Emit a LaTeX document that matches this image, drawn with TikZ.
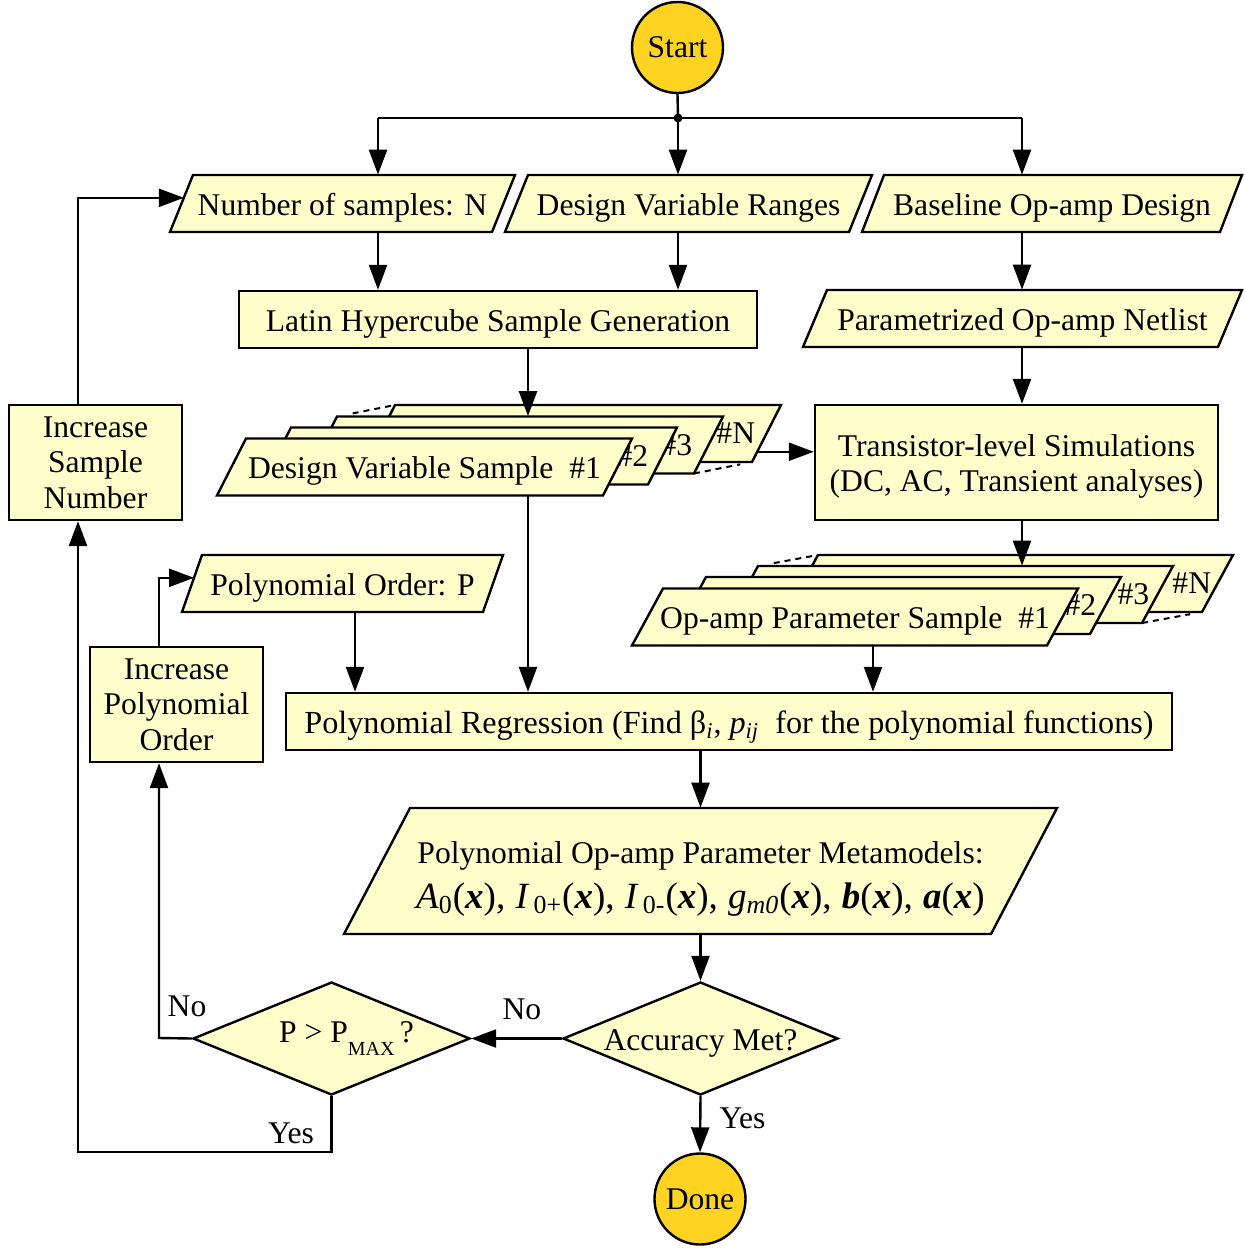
\documentclass[tikz,border=0pt]{standalone}
\usepackage{fontspec}
\setmainfont{Liberation Serif}
\usetikzlibrary{shapes.geometric,arrows.meta,calc}
\definecolor{boxfill}{HTML}{FFFFCC}
\definecolor{termfill}{HTML}{FFD321}

% Slanted data box: [text options]{name}{cx}{cy}{full width}{height}{slant}{text}
% Corners are kept as name-bl, name-tl, name-tr, name-br; name-r is the middle of the right side.
\newcommand{\iobox}[8][oneline]{%
  \filldraw[iofill] ({#3-#5/2},{#4+#6/2}) coordinate (#2-bl)
     -- ({#3-#5/2+#7},{#4-#6/2}) coordinate (#2-tl)
     -- ({#3+#5/2},{#4-#6/2}) coordinate (#2-tr)
     -- ({#3+#5/2-#7},{#4+#6/2}) coordinate (#2-br) -- cycle;
  \coordinate (#2-r) at ({#3+#5/2-#7/2},#4);
  \node[iotext, minimum width={(#5-#7)*0.5pt}, minimum height={#6*0.5pt}, #1] (#2) at (#3,#4) {#8};
}

\begin{document}
\begin{tikzpicture}[x=0.5pt,y=-0.5pt,
  every node/.style={font=\fontsize{15.8}{17.8}\selectfont},
  oneline/.style={text height=15pt, text depth=3.5pt},
  iofill/.style={draw, line width=1.2pt, fill=boxfill},
  iotext/.style={inner sep=0pt},
  box/.style={draw, line width=1.2pt, fill=boxfill, rectangle, inner sep=0pt},
  decision/.style={draw, line width=1.2pt, fill=boxfill, diamond, shape aspect=2.43, inner sep=0pt},
  terminal/.style={draw, line width=1.2pt, fill=termfill, circle, minimum size=45.5pt, inner sep=0pt},
  arr/.style={line width=1.2pt, -{Triangle[length=12.5pt,width=9pt]}},
  link/.style={line width=1.2pt},
  gap/.style={line width=1pt, dash pattern=on 3pt off 2.5pt},
  tag/.style={inner sep=0pt}
]
\useasboundingbox (0,0) rectangle (1244,1249);

% ---------- terminals and top distribution ----------
\node[terminal] (start) at (677.5,47.5) {Start};
\coordinate (bus)  at (678,118);
\coordinate (colA) at (378,118);
\coordinate (colC) at (1022,118);

% ---------- inputs ----------
\iobox{ns}{342.5}{203.5}{345}{57}{23}{Number of samples: N}
\iobox{dvr}{688.5}{203.5}{367}{57}{23}{Design Variable Ranges}
\iobox{bod}{1052}{203.5}{380}{57}{22}{Baseline Op-amp Design}

\node[box, oneline, minimum width=259pt, minimum height=28.5pt] (lhs) at (498,319.5)
  {Latin Hypercube Sample Generation};
\iobox{pon}{1022.5}{318.5}{439}{57}{24}{Parametrized Op-amp Netlist}

\node[box, align=center, minimum width=201.5pt, minimum height=57.5pt] (tls) at (1016.5,462.5)
  {\rule{0pt}{15pt}Transistor-level Simulations\\(DC, AC, Transient analyses)};
\node[box, align=center, minimum width=86.5pt, minimum height=57.5pt] (isn) at (95.5,462.5)
  {Increase\\Sample\\Number};

% ---------- stack of design variable samples (back to front) ----------
\iobox{dsN}{573.5}{433.5}{415}{57}{29}{}
\node[tag, anchor=east] (tN) at ([xshift=-5.5pt]dsN-r) {\#N};
\iobox{ds3}{515.5}{445}{415}{57}{29}{}
\node[tag, anchor=east] (t3) at ([xshift=-8pt]ds3-r) {\#3};
\iobox{ds2}{469.5}{456}{415}{57}{29}{}
\node[tag, anchor=east] (t2) at ([xshift=-7pt]ds2-r) {\#2};
\iobox{ds1}{424.5}{467}{415}{57}{29}{Design Variable Sample \ \#1}
\draw[gap, shorten <=8pt] (ds3-tl) -- (dsN-tl);
\draw[gap, shorten >=6pt] (ds3-br) -- (dsN-br);

% ---------- stack of op-amp parameter samples (back to front) ----------
\iobox{opN}{1010}{583.5}{446}{57}{31}{}
\node[tag, anchor=east] (uN) at ([xshift=-3pt]opN-r) {\#N};
\iobox{op3}{950}{594.5}{446}{57}{31}{}
\node[tag, anchor=east] (u3) at ([xshift=-4pt]op3-r) {\#3};
\iobox{op2}{898}{605.5}{446}{57}{31}{}
\node[tag, anchor=east] (u2) at ([xshift=-4.5pt]op2-r) {\#2};
\iobox{op1}{855}{617}{446}{57}{31}{Op-amp Parameter Sample \ \#1}
\draw[gap, shorten <=8pt] (op3-tl) -- (opN-tl);
\draw[gap, shorten >=6pt] (op3-br) -- (opN-br);

% ---------- regression loop ----------
\iobox{por}{342.5}{583.5}{321}{57}{20}{Polynomial Order: P}
\node[box, align=center, minimum width=86.5pt, minimum height=57.5pt] (ipo) at (176.5,704.5)
  {Increase\\Polynomial\\Order};
\node[box, oneline, minimum width=443pt, minimum height=28.5pt,
      font=\fontsize{16.1}{18}\selectfont] (reg) at (729,721.5)
  {Polynomial Regression (Find β\textsubscript{\textit{i}}, \textit{p}\textsubscript{\textit{ij}}\ \ for the polynomial functions)};
\iobox[align=center]{meta}{700.5}{871}{713}{126}{66}
  {\rule{0pt}{19pt}Polynomial Op-amp Parameter Metamodels:\\[4.5pt]
   {\fontsize{18.5}{20}\selectfont
   \textit{A}\textsubscript{0}(\textbf{\textit{x}}),\;%
   \textit{I}\textsubscript{\,0+}(\textbf{\textit{x}}),\;%
   \textit{I}\textsubscript{\,0-}(\textbf{\textit{x}}),\;%
   \textit{g}\textsubscript{\textit{m0}}(\textbf{\textit{x}}),\;%
   \textbf{\textit{b}}(\textbf{\textit{x}}),\;%
   \textbf{\textit{a}}(\textbf{\textit{x}})}}

\node[decision, text height=12pt, text depth=0.5pt, minimum width=137.5pt, minimum height=56.5pt]
  (acc) at (700.5,1038.5) {Accuracy Met?};
\node[decision, minimum width=138.5pt, minimum height=56.5pt] (pmax) at (331.5,1038.5)
  {\hspace*{15pt}P > P\raisebox{-0.9ex}{\fontsize{10}{11}\selectfont MAX}\,?};
\node[terminal] (done) at (700,1199) {Done};

% ---------- connectors ----------
\draw[link] (start.south) -- (bus);
\draw[link] (colA) -- (colC);
\fill (bus) circle (4.5);
\draw[arr] (colA) -- (ns.north -| colA);
\draw[arr] (bus)  -- (dvr.north -| bus);
\draw[arr] (colC) -- (bod.north -| colC);

\draw[arr] (ns.south -| colA)  -- (lhs.north -| colA);
\draw[arr] (dvr.south -| bus)  -- (lhs.north -| bus);
\draw[arr] (bod.south -| colC) -- (pon.north -| colC);
\draw[arr] (pon.south -| colC) -- (tls.north -| colC);

\coordinate (colB) at (528,348);
\draw[arr] (lhs.south -| colB) -- (ds3.north -| colB);
\path (dsN-br) -- (dsN-tr) coordinate[pos=0.18] (dsout);
\draw[arr] (dsout) -- (dsout -| tls.west);
\draw[arr] (tls.south -| colC) -- (op3.north -| colC);

\coordinate (colD) at (873,646);
\coordinate (colE) at (355,612);
\draw[arr] (ds1.south -| colB) -- (reg.north -| colB);
\draw[arr] (op1.south -| colD) -- (reg.north -| colD);
\draw[arr] (por.south -| colE) -- (reg.north -| colE);

\draw[arr] (reg.south -| meta.north) -- (meta.north);
\draw[arr] (meta.south) -- (acc.north);
\draw[arr] (acc.south) -- (done.north) node[tag, pos=0.4, right=9pt] (yes1) {Yes};
\draw[arr] (acc.west) -- (pmax.east) node[tag, pos=0.44, above=9pt] (no1) {No};

\coordinate (colF) at (159,1038);
\draw[arr] (pmax.west) -- (colF) -- (ipo.south -| colF);
\node[tag] (no2) at (187,1006) {No};
\path (por-bl) -- (por-tl) coordinate[pos=0.6] (porin);
\draw[arr] (ipo.north -| colF) |- (porin);

\coordinate (lowY) at (78,1152);
\draw[arr] (pmax.south) |- (lowY) -- (isn.south -| lowY);
\node[tag] (yes2) at (291,1133) {Yes};
\path (ns-bl) -- (ns-tl) coordinate[pos=0.6] (nsin);
\draw[arr] (isn.north -| lowY) |- (nsin);

\end{tikzpicture}
\end{document}
